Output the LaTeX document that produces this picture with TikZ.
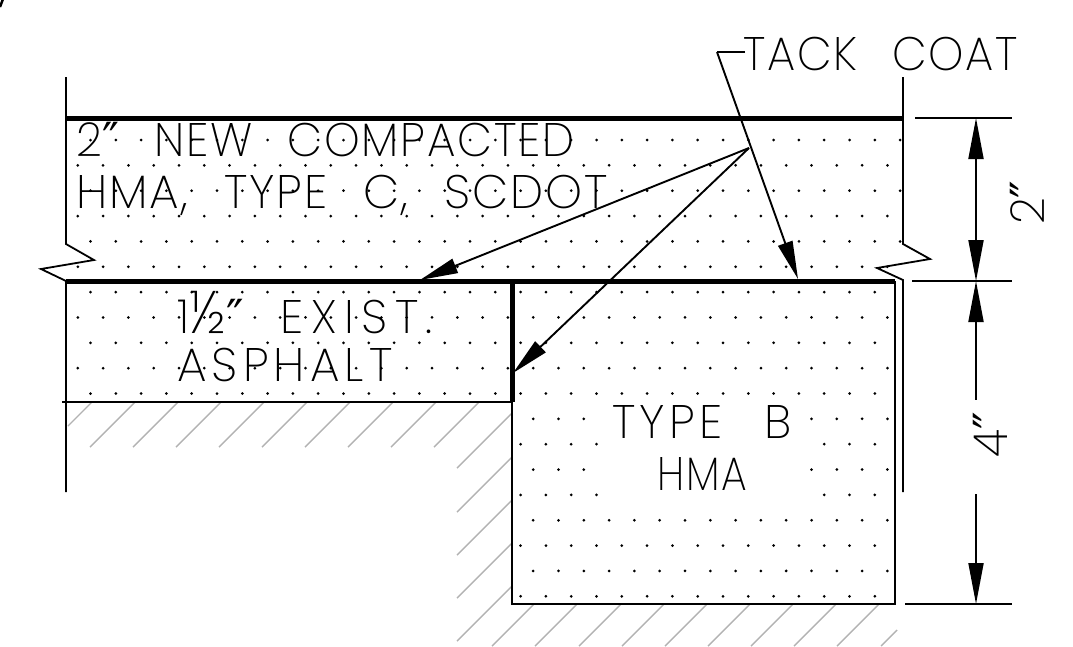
\documentclass[tikz,border=0pt]{standalone}
\usepackage{fontspec}
\usepackage{graphicx}
\usetikzlibrary{arrows.meta}
\newfontfamily\cadfont[LetterSpace=4,WordSpace=2.4]{Poppins ExtraLight}
\newfontfamily\primefont{DejaVu Sans}
\newcommand{\inchmark}{{\primefont\char"2033}}
\newcommand{\halfmark}{{\fontsize{60}{60}\selectfont ½}}
\newcommand{\cadspace}[1]{\addfontfeature{LetterSpace=#1}}
\tikzset{
  cadtext/.style={inner sep=0pt,font=\cadfont\fontsize{47}{47}\selectfont,anchor=base west},
  wall/.style={line width=1.8pt},
  layer/.style={line width=5pt},
  edge/.style={line width=2.4pt},
  hatchline/.style={line width=1.4pt,black!30},
  leader/.style={line width=1.9pt,-{Triangle[length=38pt,width=15pt]}},
  dimline/.style={line width=1.9pt},
  dimboth/.style={line width=1.9pt,{Triangle[length=41pt,width=15pt]}-{Triangle[length=41pt,width=15pt]}},
  dimstart/.style={line width=1.9pt,{Triangle[length=41pt,width=15pt]}-},
  dimend/.style={line width=1.9pt,-{Triangle[length=41pt,width=15pt]}},
  grain/.style={circle,fill=black,inner sep=0pt,minimum size=3pt},
}
\begin{document}
\begin{tikzpicture}[x=1pt,y=-1pt]
\useasboundingbox (0,0) rectangle (1073,646);

% stippling
\foreach \row in {0,...,18} {
  \pgfmathsetmacro{\rowy}{140+25.35*\row}
  \pgfmathtruncatemacro{\odd}{mod(\row,2)}
  \ifnum\odd=0 \def\first{90.5}\else\def\first{77.8}\fi
  \foreach \col in {0,...,32} {
    \pgfmathsetmacro{\colx}{\first+25.3*\col}
    \pgfmathtruncatemacro{\keep}{
      (\row<=5 && \colx<903) ||
      (\row>5 && \row<=10 && \colx<892 && abs(\colx-512)>2) ||
      (\row>10 && \colx>515 && \colx<892 && !(\colx>600 && \colx<805 && \row<=14))}
    \ifnum\keep=1 \node[grain] at (\colx,\rowy) {};\fi
  }
}

% hatching
\foreach \hx in {135,178,221,264,307,350,393,436,479} \draw[hatchline] (\hx,402) -- ++(-45,45);
\draw[hatchline] (92,402) -- (68,426);
\foreach \hy in {413,457,500,543,586} \draw[hatchline] (512,\hy) -- ++(-55,55);
\foreach \hx in {534,577,621,664,707,750,793,836,879} \draw[hatchline] (\hx,604) -- ++(-42,42);
\draw[hatchline] (897,630) -- (881,646);

% walls
\coordinate (tl) at (66,118);
\coordinate (tr) at (903,118);
\coordinate (ml) at (66,281);
\coordinate (mr) at (895,281);
\coordinate (st) at (512,281);
\coordinate (sb) at (512,402);
\coordinate (bl) at (512,604);
\coordinate (br) at (895,604);
\draw[wall] (66,77) -- (66,244) -- (94,260) -- (41,269) -- (ml) -- (66,492);
\draw[wall] (903,77) -- (903,244) -- (930,259) -- (877,268) -- (903,280) -- (903,492);
\draw[layer] (tl) -- (tr);
\draw[layer] (ml) -- (mr);
\draw[layer] (st) -- (sb);
\draw[edge] (62,402) -- (sb);
\draw[edge] (sb) -- (bl) -- (br) -- (mr);

% dimensions
\draw[dimline] (915,118) -- (1012,118);
\draw[dimline] (912,281) -- (1012,281);
\draw[dimline] (905,604) -- (1012,604);
\coordinate (da) at (976,118);
\coordinate (db) at (976,281);
\coordinate (dc) at (976,604);
\coordinate (dd) at (976,400);
\coordinate (de) at (976,494);
\draw[dimboth] (da) -- (db);
\draw[dimstart] (db) -- (dd);
\draw[dimend] (de) -- (dc);

% tack coat leaders
\coordinate (lk) at (717,52);
\coordinate (hub) at (749,148);
\draw[leader,-] (745,52) -- (lk);
\draw[leader] (lk) -- (798,279);
\draw[leader] (hub) -- (420,280);
\draw[leader] (hub) -- (513,373);

% corner mark
\draw[line width=2.5pt] (3,-1) -- (0,7);

% labels
\node[cadtext] (tack) at (743,70) {\scalebox{.955}[1]{TACK COAT}};
\node[cadtext] (new) at (76,156) {\scalebox{.965}[1]{2\inchmark{} NEW COMPACTED}};
\node[cadtext] (hma) at (76,208) {HMA, TYPE C, SCDOT};
\node[cadtext] (exist) at (177,333) {1\halfmark\inchmark{} \cadspace{16}EXIST.};
\node[cadtext] (asph) at (177,381) {\cadspace{11}ASPHALT};
\node[cadtext] (typeb) at (612,438) {\cadspace{9}TYPE B};
\node[cadtext] (hmab) at (657,490) {\scalebox{.87}[1]{HMA}};
\node[cadtext,rotate=90] (two) at (1044,225) {2\inchmark};
\node[cadtext,rotate=90] (four) at (1007,458) {4\inchmark};
\end{tikzpicture}
\end{document}
